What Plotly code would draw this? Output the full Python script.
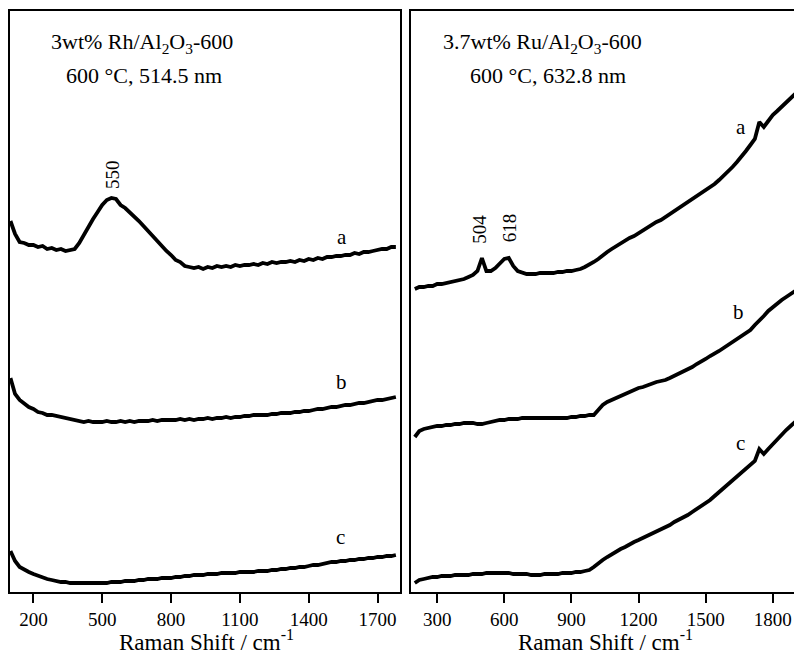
import plotly.graph_objects as go

# Raman spectra recorded at 600 °C (intensity in arbitrary units, offset per trace)
rh_x_start, rh_x_step = 100, 20   # cm-1, 3wt% Rh/Al2O3-600 grid (100 ... 1780)
ru_x_start, ru_x_step = 200, 20   # cm-1, 3.7wt% Ru/Al2O3-600 grid (200 ... 1900)

rh_a = [371, 358, 350, 349, 347, 347, 345, 346, 343, 344,
        342, 343, 341, 342, 343, 349, 357, 366, 373, 380,
        387, 392, 394, 393, 387, 384, 380, 376, 371, 366,
        361, 356, 350, 346, 341, 337, 332, 330, 326, 325,
        324, 325, 323, 325, 324, 326, 325, 326, 325, 327,
        326, 327, 327, 328, 327, 329, 328, 330, 329, 330,
        330, 331, 330, 332, 331, 333, 332, 334, 333, 335,
        335, 336, 336, 337, 337, 339, 338, 340, 340, 341,
        342, 343, 343, 345, 345]
rh_b = [214, 198, 192, 188, 185, 183, 180, 179, 177, 177,
        176, 175, 174, 173, 172, 171, 170, 171, 170, 170,
        170, 171, 170, 170, 171, 170, 171, 170, 171, 171,
        171, 172, 171, 172, 172, 172, 172, 173, 172, 173,
        172, 173, 173, 174, 173, 174, 174, 175, 174, 175,
        175, 176, 176, 177, 177, 177, 177, 178, 178, 179,
        179, 179, 180, 180, 181, 181, 182, 183, 183, 184,
        185, 185, 186, 187, 187, 188, 189, 189, 190, 191,
        192, 192, 193, 194, 195]
rh_c = [41, 31, 25, 22, 20, 18, 16, 15, 13, 12,
        11, 10, 10, 9, 9, 9, 9, 9, 9, 9,
        9, 9, 10, 10, 10, 11, 11, 11, 12, 12,
        13, 13, 13, 14, 14, 14, 15, 15, 16, 16,
        17, 17, 17, 18, 18, 18, 19, 19, 19, 19,
        20, 20, 20, 20, 21, 21, 21, 22, 22, 23,
        23, 24, 24, 25, 25, 26, 27, 27, 28, 29,
        30, 30, 31, 31, 32, 32, 33, 33, 34, 34,
        35, 35, 36, 36, 37]

ru_a = [303, 305, 305, 306, 306, 308, 308, 309, 310, 311,
        312, 313, 315, 317, 321, 334, 321, 321, 324, 328,
        333, 334, 326, 321, 319, 318, 318, 318, 319, 319,
        319, 319, 320, 320, 321, 321, 322, 323, 325, 327,
        330, 333, 337, 340, 343, 346, 349, 351, 354, 356,
        359, 362, 365, 367, 370, 372, 375, 378, 381, 384,
        387, 390, 392, 395, 399, 402, 405, 408, 412, 416,
        421, 425, 430, 435, 441, 447, 453, 470, 465, 471,
        477, 481, 485, 490, 494, 498]
ru_b = [155, 161, 163, 164, 165, 166, 166, 167, 167, 168,
        168, 169, 169, 169, 168, 168, 169, 170, 171, 172,
        172, 173, 173, 173, 174, 174, 174, 174, 174, 174,
        174, 174, 174, 174, 174, 175, 175, 176, 176, 177,
        177, 182, 187, 190, 192, 195, 197, 199, 201, 203,
        204, 205, 207, 208, 210, 211, 212, 214, 216, 218,
        220, 222, 225, 228, 230, 233, 236, 238, 241, 244,
        247, 250, 253, 256, 259, 262, 267, 271, 276, 281,
        285, 289, 292, 295, 298, 301]
ru_c = [9, 12, 13, 14, 15, 15, 16, 16, 16, 17,
        17, 17, 17, 18, 18, 18, 19, 19, 19, 19,
        19, 19, 18, 18, 18, 18, 17, 17, 17, 18,
        18, 18, 18, 19, 19, 19, 20, 20, 21, 22,
        25, 29, 32, 35, 38, 40, 43, 45, 48, 50,
        52, 54, 56, 58, 61, 63, 65, 67, 70, 72,
        74, 77, 80, 83, 85, 88, 92, 96, 100, 104,
        108, 112, 116, 119, 123, 127, 131, 143, 138, 143,
        148, 153, 157, 162, 166, 170]

rh_ticks = [200, 500, 800, 1100, 1400, 1700]
ru_ticks = [300, 600, 900, 1200, 1500, 1800]
trace_labels = ["a", "b", "c"]
rh_peaks = [550]
ru_peaks = [504, 618]

SERIF = "Liberation Serif"
LINE = dict(color="black", width=3.8)


def grid(start, step, values):
    return [start + step * i for i in range(len(values))]


fig = go.Figure()
for ys in (rh_a, rh_b, rh_c):
    fig.add_trace(go.Scatter(x=grid(rh_x_start, rh_x_step, ys), y=ys, mode="lines",
                             line=LINE, xaxis="x", yaxis="y", showlegend=False))
for ys in (ru_a, ru_b, ru_c):
    fig.add_trace(go.Scatter(x=grid(ru_x_start, ru_x_step, ys), y=ys, mode="lines",
                             line=LINE, xaxis="x2", yaxis="y2", showlegend=False))

axis_common = dict(showline=True, linecolor="black", linewidth=2, showgrid=False,
                   zeroline=False)
xcommon = dict(axis_common, mirror=True, ticks="outside", ticklen=9, tickwidth=2,
               tickcolor="black", tickfont=dict(family=SERIF, size=19, color="black"))
ycommon = dict(axis_common, range=[0, 581], showticklabels=False, ticks="")

fig.update_layout(
    width=794, height=654,
    margin=dict(l=10, r=0, t=11, b=62),
    paper_bgcolor="white", plot_bgcolor="white",
    font=dict(family=SERIF, color="black"),
    xaxis=dict(xcommon, domain=[0, 390 / 784], range=[98, 1798],
               tickmode="array", tickvals=rh_ticks, anchor="y"),
    yaxis=dict(ycommon, domain=[0, 1], mirror=True, anchor="x"),
    xaxis2=dict(xcommon, domain=[401 / 784, 1], range=[183, 1895],
                tickmode="array", tickvals=ru_ticks, anchor="y2"),
    yaxis2=dict(ycommon, domain=[0, 1], mirror=False, anchor="x2"),
)

ann = []


def text(x, y, s, xr, yr, size=21, angle=0):
    ann.append(dict(x=x, y=y, xref=xr, yref=yr, text=s, showarrow=False,
                    textangle=angle, xanchor="center", yanchor="middle",
                    font=dict(family=SERIF, size=size, color="black")))


# panel headers
text(672, 549, "3wt% Rh/Al<sub>2</sub>O<sub>3</sub>-600", "x", "y", size=22)
text(680, 517, "600 °C, 514.5 nm", "x", "y", size=22)
text(769, 549, "3.7wt% Ru/Al<sub>2</sub>O<sub>3</sub>-600", "x2", "y2", size=22)
text(795, 517, "600 °C, 632.8 nm", "x2", "y2", size=22)

# trace letters
for lab, (xl, yl) in zip(trace_labels, [(1546, 355), (1542, 210), (1538, 55)]):
    text(xl, yl, lab, "x", "y")
for lab, (xl, yl) in zip(trace_labels, [(1657, 465), (1648, 280), (1657, 149)]):
    text(xl, yl, lab, "x2", "y2")

# peak positions
text(rh_peaks[0] - 7, 417, str(rh_peaks[0]), "x", "y", size=19, angle=-90)
text(ru_peaks[0] - 18, 363, str(ru_peaks[0]), "x2", "y2", size=19, angle=-90)
text(ru_peaks[1] + 4, 364, str(ru_peaks[1]), "x2", "y2", size=19, angle=-90)

# axis titles
title = "Raman Shift / cm<sup>-1</sup>"
text(955, -48 / 581, title, "x", "paper", size=23)
text(1051, -48 / 581, title, "x2", "paper", size=23)

fig.update_layout(annotations=ann)
fig.write_html("out.html")
